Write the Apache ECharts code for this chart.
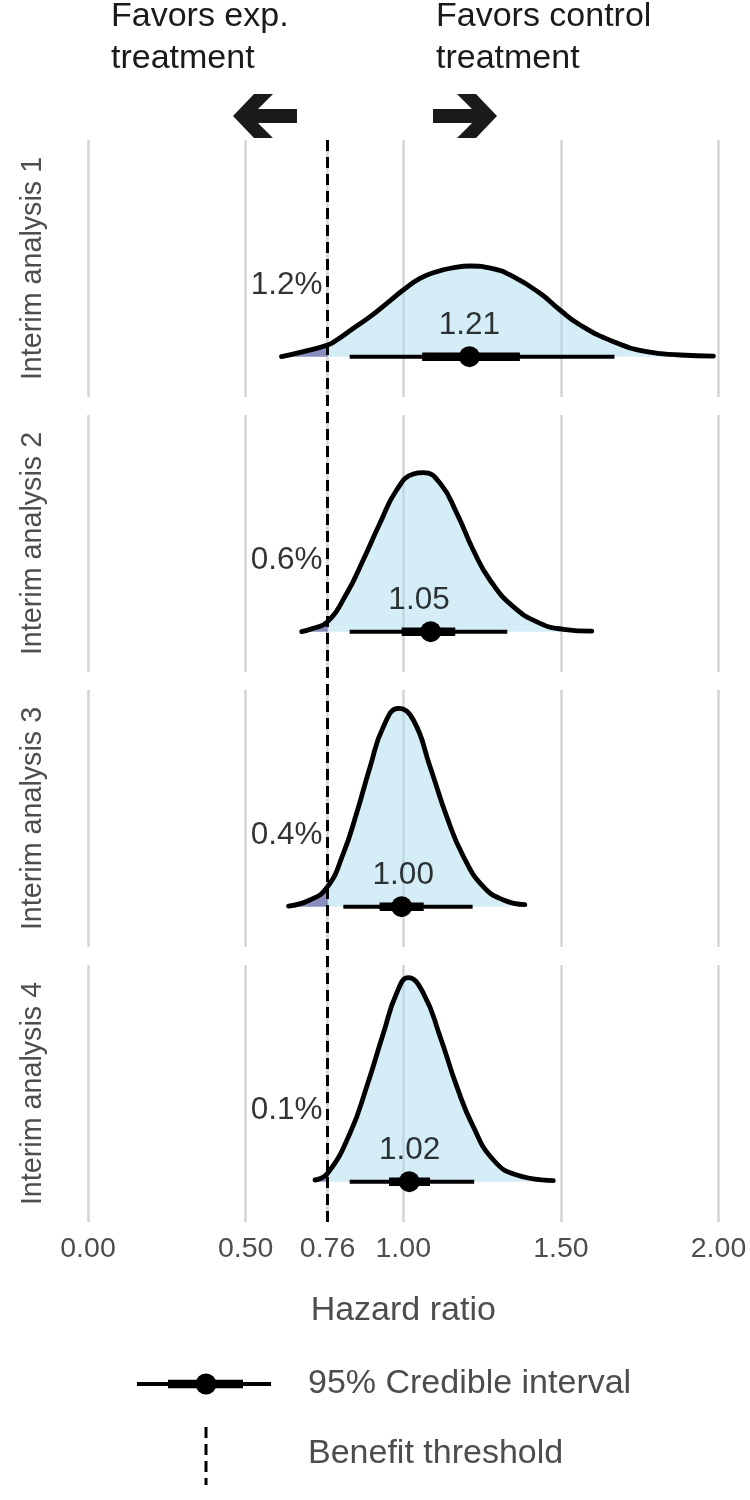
<!DOCTYPE html>
<html><head><meta charset="utf-8">
<script src="https://cdn.jsdelivr.net/npm/echarts@6/dist/echarts.min.js"></script>
<style>html,body{margin:0;padding:0;background:#fff}#chart{width:750px;height:1500px}</style>
</head><body><div id="chart"></div>
<script>
// ---------------- data ----------------
const panelNames = ['Interim analysis 1', 'Interim analysis 2', 'Interim analysis 3', 'Interim analysis 4'];
const threshold = 0.76;
const tickValues = [0, 0.5, 0.76, 1, 1.5, 2];
const probBelowThreshold = ['1.2%', '0.6%', '0.4%', '0.1%'];
const estimateLabels = ['1.21', '1.05', '1.00', '1.02'];
const pointEstimates = [1.21, 1.087, 0.995, 1.019];
const ci95 = [[0.83, 1.67], [0.83, 1.33], [0.81, 1.22], [0.83, 1.225]];
const ci66 = [[1.06, 1.37], [0.995, 1.165], [0.925, 1.065], [0.955, 1.085]];
// posterior density of the hazard ratio, [HR, density]
const density1 = [[0.614,0],[0.683,0.08],[0.76,0.187],[0.789,0.267],[0.842,0.454],[0.895,0.64],[0.948,0.854],[1.0,1.067],[1.053,1.254],[1.106,1.36],[1.16,1.424],[1.212,1.451],[1.28,1.414],[1.349,1.28],[1.434,1.014],[1.497,0.747],[1.561,0.507],[1.667,0.24],[1.772,0.08],[1.878,0.027],[1.984,0.008]];
const density2 = [[0.678,0],[0.715,0.054],[0.76,0.16],[0.821,0.614],[0.873,1.147],[0.926,1.734],[0.979,2.267],[1.032,2.523],[1.064,2.544],[1.117,2.374],[1.17,1.894],[1.222,1.307],[1.275,0.827],[1.349,0.4],[1.434,0.134],[1.508,0.038],[1.598,0.008]];
const density3 = [[0.636,0.01],[0.704,0.107],[0.76,0.32],[0.81,0.854],[0.852,1.494],[0.895,2.24],[0.937,2.88],[0.985,3.174],[1.032,2.987],[1.085,2.24],[1.138,1.44],[1.191,0.8],[1.254,0.32],[1.318,0.107],[1.386,0.032]];
const density4 = [[0.72,0.027],[0.76,0.134],[0.831,0.774],[0.884,1.52],[0.937,2.374],[0.979,3.014],[1.016,3.264],[1.064,3.014],[1.117,2.32],[1.17,1.52],[1.222,0.88],[1.286,0.347],[1.36,0.107],[1.476,0.016]];
const densities = [density1, density2, density3, density4];

// ---------------- layout / style ----------------
const FONT = '"Liberation Sans", Arial, Helvetica, sans-serif';
const PANEL_TOP = 140, PANEL_H = 257, PANEL_STEP = 275, LEFT = 88, RIGHT = 31.5;
const Y_MIN = -0.645, Y_MAX = 3.467;
const EST_LABEL_Y = 0.51, PCT_LABEL_Y = 1.15;
const GREY_TEXT = '#4d4d4d';
const BIG = 34;

const grids = [], xAxes = [], yAxes = [], series = [];
panelNames.forEach((name, i) => {
  grids.push({ left: LEFT, right: RIGHT, top: PANEL_TOP + PANEL_STEP * i, height: PANEL_H });
  xAxes.push({
    type: 'value', gridIndex: i, min: 0, max: 2, interval: 0.5,
    axisLine: { show: false },
    axisTick: { show: false, customValues: tickValues },
    axisLabel: { show: i === 3, customValues: tickValues, formatter: v => v.toFixed(2),
      fontSize: 28.5, color: GREY_TEXT, fontFamily: FONT, margin: 13 },
    splitLine: { show: true, lineStyle: { color: '#d4d4d4', width: 2.5 } },
    name: i === 3 ? 'Hazard ratio' : '', nameLocation: 'middle', nameGap: 72,
    nameTextStyle: { fontSize: BIG, color: GREY_TEXT, fontFamily: FONT }
  });
  yAxes.push({
    type: 'value', gridIndex: i, min: Y_MIN, max: Y_MAX,
    axisLine: { show: false }, axisTick: { show: false }, axisLabel: { show: false },
    splitLine: { show: false },
    name: name, nameLocation: 'middle', nameRotate: 90, nameGap: 40,
    nameTextStyle: { fontSize: 28.7, color: GREY_TEXT, fontFamily: FONT }
  });
  const d = densities[i];
  const body = d.filter(p => p[0] >= threshold);
  const tail = d.filter(p => p[0] <= threshold);
  series.push({
    type: 'line', xAxisIndex: i, yAxisIndex: i, data: body, smooth: true, showSymbol: false,
    lineStyle: { width: 0 }, areaStyle: { color: 'rgba(170,220,240,0.5)', opacity: 1 }, z: 2, silent: true
  });
  series.push({
    type: 'line', xAxisIndex: i, yAxisIndex: i, data: tail, smooth: true, showSymbol: false,
    lineStyle: { width: 0 }, areaStyle: { color: 'rgba(90,100,165,0.72)', opacity: 1 }, z: 2, silent: true
  });
  series.push({
    type: 'line', xAxisIndex: i, yAxisIndex: i, data: d, smooth: true, showSymbol: false,
    lineStyle: { width: 4.8, color: '#000', cap: 'round', join: 'round' }, z: 3, silent: true
  });
  series.push({
    type: 'line', xAxisIndex: i, yAxisIndex: i, data: ci95[i].map(x => [x, 0]), showSymbol: false,
    lineStyle: { width: 4, color: '#000' }, z: 4, silent: true
  });
  series.push({
    type: 'line', xAxisIndex: i, yAxisIndex: i, data: ci66[i].map(x => [x, 0]), showSymbol: false,
    lineStyle: { width: 8.5, color: '#000' }, z: 4, silent: true
  });
  series.push({
    type: 'scatter', xAxisIndex: i, yAxisIndex: i, data: [[pointEstimates[i], 0]],
    symbolSize: 21, itemStyle: { color: '#000', opacity: 1 }, z: 5, silent: true
  });
  series.push({
    type: 'scatter', xAxisIndex: i, yAxisIndex: i, data: [[parseFloat(estimateLabels[i]), EST_LABEL_Y]],
    symbolSize: 0, z: 6, silent: true,
    label: { show: true, position: 'inside', formatter: () => estimateLabels[i], fontSize: 31.5, color: '#000', fontFamily: FONT }
  });
  series.push({
    type: 'scatter', xAxisIndex: i, yAxisIndex: i, data: [[threshold, PCT_LABEL_Y]],
    symbolSize: 0, z: 6, silent: true,
    label: { show: true, position: 'left', distance: 5, formatter: () => probBelowThreshold[i], fontSize: 31.5, color: '#000', fontFamily: FONT }
  });
});
// overlay grid for the benefit threshold line spanning all panels
grids.push({ left: LEFT, right: RIGHT, top: PANEL_TOP, height: PANEL_STEP * 3 + PANEL_H });
xAxes.push({ type: 'value', gridIndex: 4, min: 0, max: 2, show: false, splitLine: { show: false } });
yAxes.push({ type: 'value', gridIndex: 4, min: 0, max: 1, show: false, splitLine: { show: false } });
series.push({
  type: 'line', xAxisIndex: 4, yAxisIndex: 4, data: [], z: 10, silent: true,
  markLine: { silent: true, symbol: ['none', 'none'], label: { show: false },
    lineStyle: { type: [11, 6], color: '#000', width: 3 },
    data: [{ xAxis: threshold }] }
});

// arrows and legend (decorations)
function arrowLeft(x0) {
  return [[x0,116],[x0+21,94],[x0+40,94],[x0+25,109],[x0+64,109],[x0+64,123],[x0+25,123],[x0+40,138],[x0+21,138]];
}
function arrowRight(x0) {
  return arrowLeft(0).map(p => [x0 + 64 - p[0], p[1]]);
}
const LG1 = 1384, LG2 = 1454;
const graphics = [
  { type: 'text', left: 111, top: -4, style: { text: 'Favors exp.\ntreatment', lineHeight: 42, fill: '#1a1a1a', font: BIG + 'px ' + FONT } },
  { type: 'text', left: 436, top: -4, style: { text: 'Favors control\ntreatment', lineHeight: 42, fill: '#1a1a1a', font: BIG + 'px ' + FONT } },
  { type: 'polygon', shape: { points: arrowLeft(233) }, style: { fill: '#1a1a1a' } },
  { type: 'polygon', shape: { points: arrowRight(433) }, style: { fill: '#1a1a1a' } },
  { type: 'line', shape: { x1: 137, y1: LG1, x2: 271, y2: LG1 }, style: { stroke: '#000', lineWidth: 4 } },
  { type: 'line', shape: { x1: 168, y1: LG1, x2: 243, y2: LG1 }, style: { stroke: '#000', lineWidth: 8.5 } },
  { type: 'circle', shape: { cx: 206, cy: LG1, r: 10.5 }, style: { fill: '#000' } },
  { type: 'text', x: 308, y: LG1, style: { text: '95% Credible interval', fill: GREY_TEXT, verticalAlign: 'middle', font: BIG + 'px ' + FONT } },
  { type: 'line', shape: { x1: 206, y1: LG2 - 27, x2: 206, y2: LG2 + 31 }, style: { stroke: '#000', lineWidth: 3, lineDash: [11, 6] } },
  { type: 'text', x: 308, y: LG2, style: { text: 'Benefit threshold', fill: GREY_TEXT, verticalAlign: 'middle', font: BIG + 'px ' + FONT } }
];

const chart = echarts.init(document.getElementById('chart'), null, { renderer: 'canvas' });
chart.setOption({
  backgroundColor: '#fff',
  animation: false,
  textStyle: { fontFamily: FONT },
  grid: grids, xAxis: xAxes, yAxis: yAxes, series: series, graphic: graphics
});
</script></body></html>
